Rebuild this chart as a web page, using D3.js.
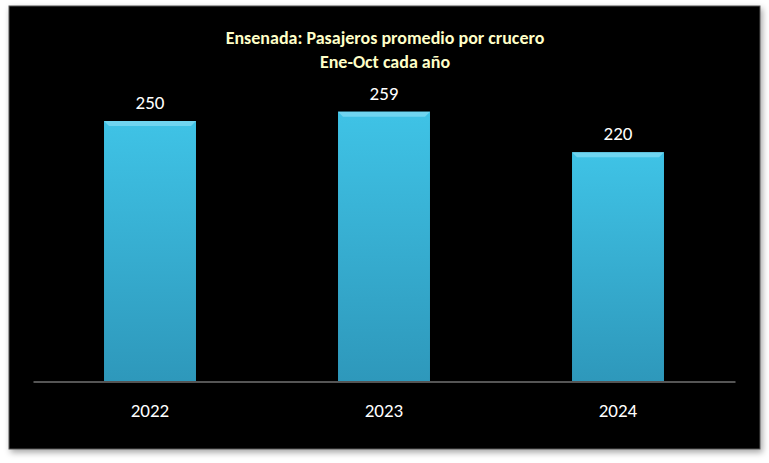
<!DOCTYPE html>
<html><head><meta charset="utf-8">
<script src="https://cdn.jsdelivr.net/npm/d3@7"></script>
<style>body{margin:0;background:#fff}</style></head>
<body><svg id="c" width="769" height="463"></svg>
<script>
const categories = ["2022","2023","2024"];
const values = [250,259,220];
const titleLines = ["Ensenada: Pasajeros promedio por crucero","Ene-Oct cada año"];

const svg = d3.select("#c");
const defs = svg.append("defs");
const g = defs.append("linearGradient").attr("id","bg").attr("x1",0).attr("y1",0).attr("x2",0).attr("y2",1);
g.append("stop").attr("offset","0%").attr("stop-color","#3fc3e6");
g.append("stop").attr("offset","100%").attr("stop-color","#2e98bb");
const f = defs.append("filter").attr("id","sh").attr("x","-5%").attr("y","-5%").attr("width","110%").attr("height","110%");
f.append("feDropShadow").attr("dx",2).attr("dy",3).attr("stdDeviation",3).attr("flood-color","#000").attr("flood-opacity",0.35);

svg.append("rect").attr("x",9).attr("y",6).attr("width",751).attr("height",443)
  .attr("fill","#050505").attr("stroke","#555").attr("stroke-width",1).attr("filter","url(#sh)");

const font = "Carlito, Calibri, 'Open Sans', sans-serif";
svg.selectAll("text.t").data(titleLines).join("text")
  .attr("x",385).attr("y",(d,i)=>44+i*24).attr("text-anchor","middle")
  .attr("fill","#ffffc8").attr("font-family",font).attr("font-weight","bold").attr("font-size",18).text(d=>d);

const x = d3.scaleBand().domain(categories).range([33,735]).paddingInner(0.607).paddingOuter(0.3035);
const y = d3.scaleLinear().domain([0,300]).range([381,69]);

const bars = svg.selectAll("g.b").data(values).join("g");
bars.append("rect").attr("x",(d,i)=>x(categories[i])).attr("y",d=>y(d))
  .attr("width",x.bandwidth()).attr("height",d=>y(0)-y(d)).attr("fill","url(#bg)");
bars.append("polygon").attr("points",(d,i)=>{const x0=x(categories[i]),x1=x0+x.bandwidth(),t=y(d);
  return `${x0},${t} ${x1},${t} ${x1-5},${t+5} ${x0+5},${t+5}`;}).attr("fill","#7dd9f2").attr("opacity",0.8);
bars.append("text").attr("x",(d,i)=>x(categories[i])+x.bandwidth()/2).attr("y",d=>y(d)-12)
  .attr("text-anchor","middle").attr("fill","#fff").attr("font-family",font).attr("font-size",19).text(d=>d);

svg.append("g").attr("transform","translate(0,381.5)")
  .call(d3.axisBottom(x).tickSize(0).tickPadding(22))
  .call(a=>{a.select(".domain").attr("stroke","#aaa");
    a.selectAll("text").attr("fill","#fff").attr("font-family",font).attr("font-size",19);});
</script></body></html>
